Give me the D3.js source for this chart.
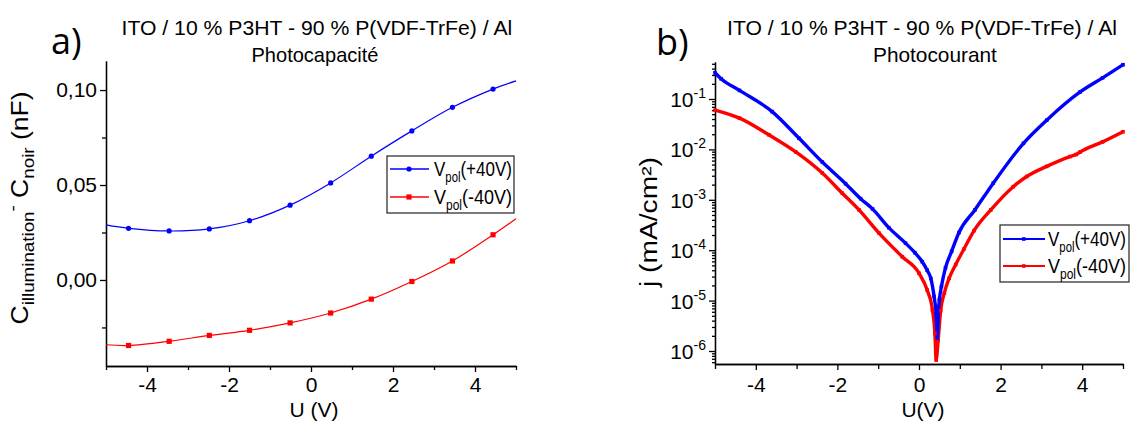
<!DOCTYPE html>
<html><head><meta charset="utf-8">
<script src="https://cdn.jsdelivr.net/npm/d3@7"></script>
<style>
body{margin:0;background:#fff}
svg{display:block}
text{font-family:"Liberation Sans",Arial,sans-serif;fill:#000}
</style>
</head><body>
<svg id="c" width="1131" height="421"></svg>
<script>
// ---------- data: panel a) photocapacité ----------
const uPts = [-4.45, -3.46, -2.48, -1.50, -0.51, 0.48, 1.47, 2.46, 3.45, 4.44];
const cPos = [0.0272, 0.0258, 0.0269, 0.0312, 0.0394, 0.0511, 0.0652, 0.0785, 0.0909, 0.1005];
const cNeg = [-0.0345, -0.0323, -0.0292, -0.0265, -0.0226, -0.0174, -0.0101, -0.0008, 0.0100, 0.0238];
const uEnds = [-5, 5];
const cPosEnds = [0.0290, 0.1048];
const cNegEnds = [-0.0341, 0.0322];
const aXTicks = [-4, -2, 0, 2, 4];
const aXMinor = [-5, -3, -1, 1, 3, 5];
const aYTicks = [0, 0.05, 0.10];
const aYMinor = [-0.025, 0.025, 0.075];

// ---------- data: panel b) photocourant ----------
const uBlue = [-5.00, -4.85, -4.40, -3.60, -2.94, -2.37, -1.80, -1.43, -1.14, -0.74, -0.33, -0.10, 0.08, 0.20, 0.29, 0.37, 0.42, 0.45, 0.47, 0.50, 0.55, 0.65, 0.80, 0.98, 1.37, 1.82, 2.56, 3.13, 3.95, 4.50, 5.00];
const jBlue = [0.331, 0.251, 0.148, 0.0562, 0.0166, 0.00562, 0.00209, 0.00105, 6.6e-4, 2.8e-4, 1.38e-4, 8.9e-5, 5.9e-5, 4.0e-5, 2.75e-5, 1.2e-5, 5.5e-6, 1.8e-6, 5.0e-6, 1.05e-5, 1.9e-5, 4.5e-5, 9.5e-5, 2.24e-4, 6.3e-4, 2.14e-3, 0.0132, 0.038, 0.138, 0.263, 0.479];
const uRed = [-5.00, -4.40, -3.68, -3.02, -2.37, -1.88, -1.47, -0.98, -0.41, 0.00, 0.20, 0.33, 0.39, 0.42, 0.47, 0.53, 0.62, 0.74, 0.90, 1.10, 1.35, 1.76, 2.31, 2.64, 3.13, 3.70, 3.85, 3.95, 4.50, 5.00];
const jRed = [0.0603, 0.0417, 0.0195, 0.0089, 0.00339, 0.00135, 6.3e-4, 2.19e-4, 7.4e-5, 3.5e-5, 1.62e-5, 6.5e-6, 2.24e-6, 6.6e-7, 1.66e-6, 6.3e-6, 1.41e-5, 2.8e-5, 5.2e-5, 1.05e-4, 2.45e-4, 6.3e-4, 1.82e-3, 2.9e-3, 4.6e-3, 7.2e-3, 7.9e-3, 8.9e-3, 0.0141, 0.0224];
const bXTicks = [-4, -2, 0, 2, 4];
const bXMinor = [-5, -3, -1, 1, 3, 5];
const bDecades = [-1, -2, -3, -4, -5, -6];

const legendLabels = ["(+40V)", "(-40V)"];
const BLUE = "#0000ff", RED = "#ff0000";
const FONT = '"Liberation Sans", Arial, sans-serif';

const svg = d3.select("#c");

function styleAxis(g, fs) {
  g.attr("font-family", FONT).attr("font-size", fs);
  g.selectAll("path.domain").attr("stroke", "#000").attr("stroke-width", 1.3);
  g.selectAll("line").attr("stroke", "#000").attr("stroke-width", 1.3);
  g.selectAll("text").attr("fill", "#000");
}
// draw a text inside a group and squeeze it horizontally to a target width
function fittedText(parent, x, y, target, anchor, build) {
  const g = parent.append("g");
  const t = g.append("text").attr("x", 0).attr("y", 0);
  build(t);
  const w = t.node().getComputedTextLength();
  const s = target / w;
  let dx = 0;
  if (anchor === "middle") dx = -target / 2;
  if (anchor === "end") dx = -target;
  g.attr("transform", `translate(${x + dx},${y}) scale(${s},1)`);
  return g;
}

// ================= Panel a =================
const xA = d3.scaleLinear().domain([-5, 5]).range([106, 516]);
const yA = d3.scaleLinear().domain([-0.0453, 0.1153]).range([366, 61]);

const gA = svg.append("g");
gA.append("g").attr("transform", `translate(0,${yA.range()[0]})`)
  .call(d3.axisBottom(xA).tickValues(aXTicks).tickSize(6).tickSizeOuter(0).tickPadding(5).tickFormat(d => String(d)))
  .call(g => styleAxis(g, 21));
gA.append("g").attr("transform", `translate(0,${yA.range()[0]})`)
  .call(d3.axisBottom(xA).tickValues(aXMinor).tickSize(4).tickSizeOuter(0).tickFormat(""))
  .call(g => styleAxis(g, 21));
gA.append("g").attr("transform", `translate(${xA.range()[0]},0)`)
  .call(d3.axisLeft(yA).tickValues(aYTicks).tickSize(6).tickSizeOuter(0).tickPadding(3).tickFormat(d => d3.format(".2f")(d).replace(".", ",")))
  .call(g => styleAxis(g, 21));
gA.append("g").attr("transform", `translate(${xA.range()[0]},0)`)
  .call(d3.axisLeft(yA).tickValues(aYMinor).tickSize(4).tickSizeOuter(0).tickFormat(""))
  .call(g => styleAxis(g, 21));

const lineA = d3.line().x(d => xA(d[0])).y(d => yA(d[1])).curve(d3.curveCatmullRom.alpha(0.5));
const curvePos = [[uEnds[0], cPosEnds[0]], ...uPts.map((u, i) => [u, cPos[i]]), [uEnds[1], cPosEnds[1]]];
const curveNeg = [[uEnds[0], cNegEnds[0]], ...uPts.map((u, i) => [u, cNeg[i]]), [uEnds[1], cNegEnds[1]]];
gA.append("path").attr("d", lineA(curvePos)).attr("fill", "none").attr("stroke", BLUE).attr("stroke-width", 1.2);
gA.append("path").attr("d", lineA(curveNeg)).attr("fill", "none").attr("stroke", RED).attr("stroke-width", 1.2);
gA.selectAll("circle.mp").data(uPts).join("circle")
  .attr("cx", (u) => xA(u)).attr("cy", (u, i) => yA(cPos[i])).attr("r", 2.6).attr("fill", BLUE);
gA.selectAll("rect.mn").data(uPts).join("rect")
  .attr("x", (u) => xA(u) - 2.6).attr("y", (u, i) => yA(cNeg[i]) - 2.6).attr("width", 5.2).attr("height", 5.2).attr("fill", RED);

// titles a
fittedText(svg, 317, 35, 391, "middle", t => t.attr("font-size", 21).text("ITO / 10 % P3HT - 90 % P(VDF-TrFe) / Al"));
fittedText(svg, 315, 62, 127, "middle", t => t.attr("font-size", 21).text("Photocapacité"));
svg.append("text").attr("x", 51).attr("y", 54).attr("font-size", 36).style("font-family", '"Open Sans", sans-serif').text("a)");

// axis titles a
svg.append("text").attr("x", 314).attr("y", 417).attr("text-anchor", "middle").attr("font-size", 21).text("U (V)");
const yl = svg.append("text").attr("transform", "translate(28,208) rotate(-90)").attr("text-anchor", "middle")
  .attr("font-size", 24).attr("textLength", 233).attr("lengthAdjust", "spacingAndGlyphs");
yl.append("tspan").text("C");
yl.append("tspan").attr("font-size", 17).attr("dy", 6).text("illumination");
yl.append("tspan").attr("font-size", 17).attr("dy", -16).text("-");
yl.append("tspan").attr("dy", 10).text(" C");
yl.append("tspan").attr("font-size", 17).attr("dy", 6).text("noir");
yl.append("tspan").attr("dy", -6).text(" (nF)");

// legend builder
function legendText(t, label) {
  t.attr("font-size", 21);
  t.append("tspan").text("V");
  t.append("tspan").attr("font-size", 14).attr("dy", 6).text("pol");
  t.append("tspan").attr("dy", -6).text(label);
}

// legend a
const legA = svg.append("g");
legA.append("rect").attr("x", 387).attr("y", 156).attr("width", 127).attr("height", 57)
  .attr("fill", "#fff").attr("stroke", "#222").attr("stroke-width", 1.2);
[[BLUE, 169, "c"], [RED, 197, "s"]].forEach(([col, y, m], i) => {
  legA.append("line").attr("x1", 390).attr("x2", 429).attr("y1", y).attr("y2", y).attr("stroke", col).attr("stroke-width", 1.5);
  if (m === "c") legA.append("circle").attr("cx", 409).attr("cy", y).attr("r", 2.6).attr("fill", col);
  else legA.append("rect").attr("x", 406.4).attr("y", y - 2.6).attr("width", 5.2).attr("height", 5.2).attr("fill", col);
  fittedText(legA, 434, y + 7, 78, "start", t => legendText(t, legendLabels[i]));
});

// ================= Panel b =================
const xB = d3.scaleLinear().domain([-5, 5]).range([715, 1123]);
const yB = d3.scaleLog().domain([Math.pow(10, -6.258), Math.pow(10, -0.266)]).range([364, 62]);

const gB = svg.append("g");
const majorsB = bDecades.map(d => Math.pow(10, d));
const minorsB = [];
for (let e = -7; e <= -1; e++) for (let k = 2; k <= 9; k++) {
  const v = k * Math.pow(10, e);
  if (v >= yB.domain()[0] && v <= yB.domain()[1]) minorsB.push(v);
}
gB.append("g").attr("transform", `translate(0,${yB.range()[0]})`)
  .call(d3.axisBottom(xB).tickValues(bXTicks).tickSize(6).tickSizeOuter(0).tickPadding(7).tickFormat(d => String(d)))
  .call(g => styleAxis(g, 21));
gB.append("g").attr("transform", `translate(0,${yB.range()[0]})`)
  .call(d3.axisBottom(xB).tickValues(bXMinor).tickSize(5).tickSizeOuter(0).tickFormat(""))
  .call(g => styleAxis(g, 21));
gB.append("g").attr("transform", `translate(${xB.range()[0]},0)`)
  .call(d3.axisLeft(yB).tickValues(majorsB).tickSize(6).tickSizeOuter(0).tickFormat(""))
  .call(g => styleAxis(g, 21));
gB.append("g").attr("transform", `translate(${xB.range()[0]},0)`)
  .call(d3.axisLeft(yB).tickValues(minorsB).tickSize(3).tickSizeOuter(0).tickFormat(""))
  .call(g => styleAxis(g, 21));
bDecades.forEach(d => {
  const t = gB.append("text").attr("x", 706).attr("y", yB(Math.pow(10, d)) + 8).attr("text-anchor", "end").attr("font-size", 21);
  t.append("tspan").text("10");
  t.append("tspan").attr("font-size", 14).attr("dy", -9).text(String(d));
});

const lineB = d3.line().x(d => xB(d[0])).y(d => yB(d[1])).curve(d3.curveMonotoneX);
const blueData = uBlue.map((u, i) => [u, jBlue[i]]);
const redData = uRed.map((u, i) => [u, jRed[i]]);
gB.append("path").attr("d", lineB(redData)).attr("fill", "none").attr("stroke", RED).attr("stroke-width", 3.4).attr("stroke-linejoin", "round");
gB.append("path").attr("d", lineB(blueData)).attr("fill", "none").attr("stroke", BLUE).attr("stroke-width", 3.4).attr("stroke-linejoin", "round");
gB.selectAll("rect.rb").data(redData).join("rect")
  .attr("x", d => xB(d[0]) - 1.8).attr("y", d => yB(d[1]) - 1.8).attr("width", 3.6).attr("height", 3.6).attr("fill", RED);
gB.selectAll("rect.bb").data(blueData).join("rect")
  .attr("x", d => xB(d[0]) - 1.8).attr("y", d => yB(d[1]) - 1.8).attr("width", 3.6).attr("height", 3.6).attr("fill", BLUE);

// titles b
fittedText(svg, 922, 35, 390, "middle", t => t.attr("font-size", 21).text("ITO / 10 % P3HT - 90 % P(VDF-TrFe) / Al"));
fittedText(svg, 935, 62, 124, "middle", t => t.attr("font-size", 21).text("Photocourant"));
svg.append("text").attr("x", 656).attr("y", 55).attr("font-size", 36).style("font-family", '"Open Sans", sans-serif').text("b)");

// axis titles b
svg.append("text").attr("x", 923).attr("y", 417).attr("text-anchor", "middle").attr("font-size", 21).text("U(V)");
const yl2 = svg.append("text").attr("transform", "translate(657,222) rotate(-90)").attr("text-anchor", "middle")
  .attr("font-size", 23).attr("textLength", 130).attr("lengthAdjust", "spacingAndGlyphs");
yl2.append("tspan").text("j (mA/cm²)");

// legend b
const legB = svg.append("g");
legB.append("rect").attr("x", 1000).attr("y", 225).attr("width", 129).attr("height", 57)
  .attr("fill", "#fff").attr("stroke", "#222").attr("stroke-width", 1.2);
[[BLUE, 239], [RED, 266]].forEach(([col, y], i) => {
  legB.append("line").attr("x1", 1003).attr("x2", 1045).attr("y1", y).attr("y2", y).attr("stroke", col).attr("stroke-width", 2);
  legB.append("rect").attr("x", 1022).attr("y", y - 1.8).attr("width", 3.6).attr("height", 3.6).attr("fill", col);
  fittedText(legB, 1048, y + 7, 78, "start", t => legendText(t, legendLabels[i]));
});
</script>
</body></html>
